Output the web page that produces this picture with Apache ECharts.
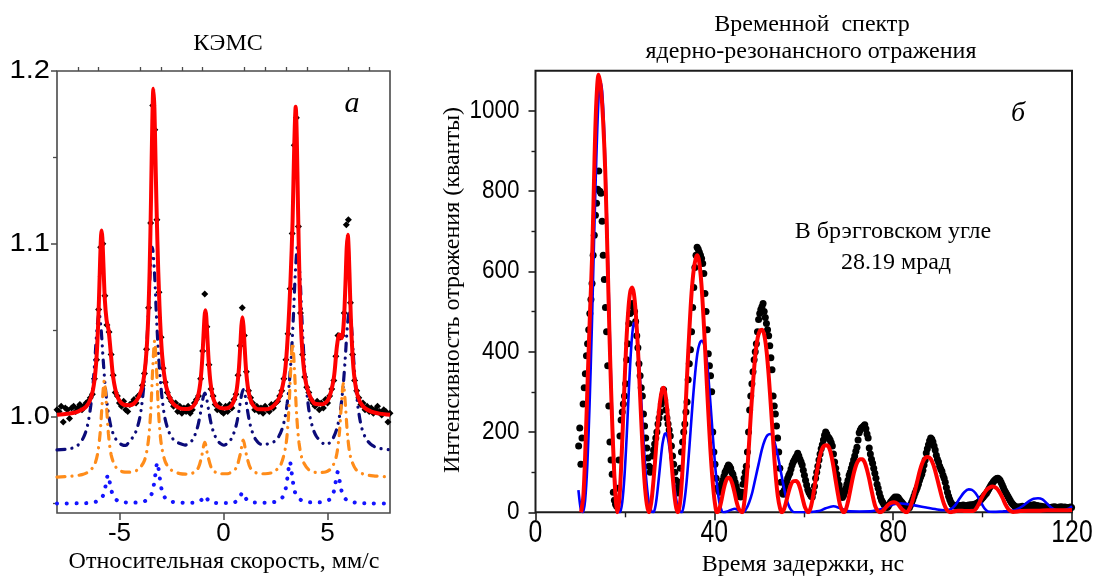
<!DOCTYPE html>
<html>
<head>
<meta charset="utf-8">
<script src="https://cdn.jsdelivr.net/npm/echarts@6.0.0/dist/echarts.min.js"></script>
<style>
  html, body { margin: 0; padding: 0; background: #fff; }
  #chart { width: 1094px; height: 578px; }
</style>
</head>
<body>
<div id="chart"></div>
<script>
// ---------- Panel (а): CEMS spectrum ----------
// measured points on a uniform velocity grid, mm/s
const velocityStart = -8;
const velocityStep = 0.1;
const cemsCounts = [
  1.004, 1.003, 1.006, 0.997, 1.005, 1.004, 0.999, 1.005, 1.006, 1.003, 1.005, 1.007, 1.004, 1.006, 1.008, 1.009, 1.011, 1.013, 1.022, 1.033,
  1.062, 1.098, 1.100, 1.070, 1.053, 1.049, 1.036, 1.024, 1.014, 1.012, 1.008, 1.006, 1.009, 1.004, 1.003, 1.007, 1.008, 1.010, 1.008, 1.012,
  1.013, 1.018, 1.025, 1.039, 1.063, 1.112, 1.180, 1.166, 1.114, 1.072, 1.046, 1.028, 1.020, 1.014, 1.011, 1.009, 1.006, 1.008, 1.003, 1.006,
  1.002, 1.005, 1.003, 1.006, 1.002, 1.004, 1.008, 1.010, 1.012, 1.022, 1.038, 1.071, 1.052, 1.030, 1.016, 1.012, 1.007, 1.004, 1.007, 1.003,
  1.002, 1.006, 1.003, 1.007, 1.005, 1.010, 1.013, 1.024, 1.041, 1.063, 1.047, 1.026, 1.015, 1.011, 1.008, 1.004, 1.006, 1.003, 1.005, 1.002,
  1.006, 1.004, 1.003, 1.007, 1.005, 1.008, 1.009, 1.012, 1.015, 1.022, 1.033, 1.048, 1.074, 1.106, 1.157, 1.173, 1.110, 1.060, 1.036, 1.023,
  1.017, 1.014, 1.010, 1.008, 1.006, 1.009, 1.004, 1.008, 1.005, 1.010, 1.008, 1.012, 1.016, 1.021, 1.035, 1.047, 1.046, 1.047, 1.060, 1.111,
  1.114, 1.066, 1.036, 1.021, 1.015, 1.011, 1.007, 1.008, 1.004, 1.006, 1.003, 1.005, 1.002, 1.004, 1.006, 1.003, 1.001, 1.004, 1.003, 0.997,
  1.002
];

// total fit [velocity, relative intensity]
const cemsFit = [
  [-8,1.0011],[-7.5,1.0017],[-7,1.003],[-6.6,1.0058],[-6.35,1.0117],[-6.2,1.021],[-6.1,1.0344],[-6.02,1.0544],[-5.95,1.0813],[-5.9,1.1005],
  [-5.86,1.1078],[-5.82,1.1035],[-5.77,1.0881],[-5.7,1.0674],[-5.62,1.0561],[-5.52,1.0499],[-5.42,1.0375],[-5.3,1.0227],[-5.1,1.0117],[-4.8,1.007],
  [-4.5,1.0066],[-4.2,1.0089],[-3.95,1.0153],[-3.78,1.027],[-3.65,1.0482],[-3.55,1.0841],[-3.48,1.1277],[-3.42,1.1709],[-3.37,1.1898],[-3.32,1.1787],
  [-3.26,1.1444],[-3.18,1.1028],[-3.08,1.0653],[-2.95,1.0357],[-2.75,1.0172],[-2.45,1.008],[-2.1,1.0049],[-1.75,1.0044],[-1.45,1.0061],[-1.25,1.0108],
  [-1.12,1.019],[-1.03,1.0316],[-0.96,1.0472],[-0.91,1.0581],[-0.87,1.0616],[-0.83,1.0582],[-0.78,1.0472],[-0.71,1.0318],[-0.62,1.0192],[-0.48,1.01],
  [-0.3,1.006],[0,1.0048],[0.3,1.0055],[0.48,1.0086],[0.62,1.0145],[0.73,1.0262],[0.8,1.0395],[0.86,1.0525],[0.91,1.0575],[0.96,1.0525],
  [1.02,1.0395],[1.1,1.0247],[1.22,1.0135],[1.4,1.0071],[1.7,1.0043],[2.05,1.0043],[2.4,1.0062],[2.7,1.0115],[2.95,1.0256],[3.1,1.0491],
  [3.22,1.079],[3.32,1.1134],[3.4,1.1573],[3.47,1.1793],[3.52,1.1619],[3.58,1.1211],[3.66,1.075],[3.76,1.0431],[3.9,1.024],[4.1,1.0136],
  [4.4,1.0075],[4.75,1.0072],[5.05,1.0103],[5.3,1.0224],[5.45,1.0408],[5.57,1.0475],[5.68,1.0454],[5.78,1.0549],[5.86,1.077],[5.92,1.0978],
  [5.97,1.1053],[6.02,1.0954],[6.08,1.0717],[6.16,1.0447],[6.27,1.0248],[6.45,1.012],[6.7,1.006],[7.1,1.0029],[7.5,1.0018],[8,1.0011]
];

// sub-spectrum 1 (dash-dot-dot), shifted down
const cemsSextetA = [
  [-8,0.9808],[-7.38,0.9815],[-7.08,0.9828],[-6.88,0.985],[-6.73,0.9879],[-6.58,0.9927],[-6.48,0.9983],[-6.38,1.0062],[-6.28,1.0171],[-6.18,1.0327],
  [-6.08,1.0506],[-5.98,1.06],[-5.88,1.0506],[-5.78,1.0327],[-5.68,1.0171],[-5.58,1.0062],[-5.48,0.9984],[-5.38,0.9929],[-5.23,0.9882],[-5.08,0.9856],
  [-4.88,0.9838],[-4.7,0.9834],[-4.52,0.9858],[-4.32,0.9887],[-4.17,0.9927],[-4.02,0.9995],[-3.92,1.0075],[-3.82,1.019],[-3.72,1.035],[-3.62,1.0579],
  [-3.52,1.0843],[-3.42,1.098],[-3.32,1.0843],[-3.22,1.0579],[-3.12,1.035],[-3.02,1.019],[-2.92,1.0075],[-2.82,0.9995],[-2.67,0.9927],[-2.52,0.9887],
  [-2.32,0.9858],[-2.05,0.9843],[-1.85,0.9836],[-1.65,0.9845],[-1.5,0.9864],[-1.4,0.9887],[-1.3,0.9918],[-1.2,0.9963],[-1.1,1.0026],[-1.0,1.0099],
  [-0.9,1.0137],[-0.8,1.0099],[-0.7,1.0026],[-0.6,0.9963],[-0.5,0.9918],[-0.4,0.9887],[-0.3,0.9864],[-0.15,0.9845],[0.02,0.9835],[0.2,0.9847],
  [0.35,0.9867],[0.45,0.9891],[0.55,0.9924],[0.65,0.9971],[0.75,1.0038],[0.85,1.0116],[0.95,1.0156],[1.05,1.0116],[1.15,1.0038],[1.25,0.9971],
  [1.35,0.9924],[1.45,0.9891],[1.55,0.9867],[1.7,0.9847],[1.9,0.9836],[2.16,0.9844],[2.46,0.9858],[2.66,0.9887],[2.81,0.9927],[2.96,0.9997],
  [3.06,1.0078],[3.16,1.0193],[3.26,1.0355],[3.36,1.0586],[3.46,1.0851],[3.56,1.099],[3.66,1.0851],[3.76,1.0586],[3.86,1.0355],[3.96,1.0193],
  [4.06,1.0078],[4.16,0.9997],[4.31,0.9927],[4.46,0.9887],[4.66,0.9858],[4.85,0.984],[4.95,0.9838],[5.15,0.9856],[5.3,0.9884],[5.45,0.9932],
  [5.55,0.9987],[5.65,1.0067],[5.75,1.0179],[5.85,1.0338],[5.95,1.0521],[6.05,1.0617],[6.15,1.0521],[6.25,1.0338],[6.35,1.0179],[6.45,1.0067],
  [6.55,0.9987],[6.65,0.9932],[6.8,0.9884],[6.95,0.9856],[7.15,0.9834],[7.45,0.9818],[8,0.9809]
];

// sub-spectrum 2 (dash-dot), shifted down
const cemsSextetB = [
  [-8,0.9651],[-7.3,0.9656],[-6.8,0.9665],[-6.45,0.9684],[-6.2,0.9722],[-6.05,0.9785],[-5.93,0.9901],[-5.83,1.0076],[-5.73,1.0207],[-5.63,1.0077],
  [-5.53,0.9902],[-5.4,0.9781],[-5.2,0.9713],[-4.9,0.9684],[-4.5,0.9679],[-4.1,0.9695],[-3.8,0.9746],[-3.62,0.9851],[-3.5,1.0024],[-3.4,1.0281],
  [-3.31,1.0438],[-3.22,1.0281],[-3.12,1.0024],[-3,0.9851],[-2.8,0.974],[-2.5,0.9691],[-2.1,0.9671],[-1.7,0.9668],[-1.4,0.9679],[-1.2,0.9707],
  [-1.05,0.9771],[-0.9,0.9852],[-0.75,0.9772],[-0.55,0.9697],[-0.25,0.9672],[0.05,0.967],[0.3,0.9674],[0.6,0.9702],[0.8,0.978],[0.95,0.9865],
  [1.1,0.978],[1.3,0.9702],[1.6,0.9674],[2,0.967],[2.4,0.968],[2.75,0.9722],[3,0.9838],[3.13,1.0019],[3.23,1.0272],[3.32,1.0427],
  [3.41,1.0272],[3.51,1.0019],[3.63,0.9848],[3.8,0.9748],[4.1,0.9693],[4.5,0.9677],[4.9,0.968],[5.2,0.9705],[5.42,0.9771],[5.56,0.9895],
  [5.66,1.0065],[5.76,1.0192],[5.86,1.0065],[5.96,0.9894],[6.1,0.977],[6.35,0.9697],[6.7,0.9669],[7.2,0.9658],[8,0.9652]
];

// sub-spectrum 3 (dotted), shifted down
const cemsSextetC = [
  [-8,0.9498],[-7,0.9499],[-6.4,0.9502],[-6,0.9514],[-5.8,0.9541],[-5.68,0.9592],[-5.55,0.9663],[-5.42,0.9593],[-5.3,0.9542],[-5.1,0.9515],
  [-4.8,0.9505],[-4.3,0.9503],[-3.8,0.9511],[-3.55,0.9531],[-3.4,0.9573],[-3.29,0.9652],[-3.18,0.9735],[-3.07,0.9652],[-2.96,0.9573],[-2.8,0.953],
  [-2.5,0.9509],[-2,0.9503],[-1.5,0.9502],[-1.2,0.9507],[-1.05,0.952],[-0.9,0.9542],[-0.75,0.952],[-0.55,0.9504],[-0.2,0.9501],[0.2,0.9501],
  [0.55,0.9506],[0.76,0.9529],[0.91,0.9561],[1.06,0.9529],[1.25,0.9507],[1.6,0.9503],[2.1,0.9502],[2.6,0.9512],[2.85,0.9537],[3,0.959],
  [3.08,0.9655],[3.19,0.974],[3.3,0.9655],[3.42,0.9569],[3.6,0.9529],[3.9,0.9509],[4.4,0.9504],[4.9,0.951],[5.15,0.9527],[5.3,0.9567],
  [5.38,0.9616],[5.49,0.968],[5.6,0.9616],[5.72,0.9552],[5.95,0.9515],[6.4,0.9502],[7,0.9499],[8,0.9498]
];

const cemsMajorY = [1.0, 1.1, 1.2];
const cemsMinorY = [0.95, 1.05, 1.15];
const cemsMajorX = [-5, 0, 5];
const cemsMinorX = [-7, -6, -4, -3, -2, -1, 1, 2, 3, 4, 6, 7];

// ---------- Panel (б): time spectrum of nuclear resonant reflection ----------
// counts on a uniform delay grid, ns
const delayStart = 9.65;
const delayStep = 0.25;
const reflectionCounts = [
  165, 210, 120, 185,
  270, 310, 345, 390, 420, 455, 495, 530, 570, 640, 690, 740, 770, 805, 850, 800, 795, 725, 640, 580,
  510, 450, 365, 265, 175, 130, 95, 50, 30, 20, 15, 60, 130, 190, 230, 250, 270, 290, 320, 380,
  420, 470, 495, 515, 520, 510, 500, 475, 440, 410, 370, 340, 310, 290, 245, 215, 185, 160, 135, 115,
  100, 110, 140, 155, 170, 185, 200, 220, 235, 250, 270, 290, 305, 280, 255, 235, 220, 205, 190, 165,
  140, 120, 100, 80, 62, 48, 75, 110, 150, 175, 200, 220, 250, 275, 330, 370, 405, 450, 510, 560,
  610, 640, 660, 655, 648, 640, 632, 620, 595, 545, 500, 455, 395, 365, 340, 300, 200, 150, 120, 85,
  60, 55, 50, 65, 72, 80, 90, 100, 105, 112, 118, 115, 110, 100, 95, 85, 75, 65, 55, 45,
  40, 38, 50, 70, 85, 100, 115, 150, 200, 255, 290, 320, 350, 380, 400, 420, 450, 480, 495, 505,
  512, 520, 500, 485, 470, 455, 440, 415, 385, 355, 290, 265, 245, 215, 185, 150, 110, 75, 48, 45,
  55, 65, 75, 85, 92, 98, 108, 118, 125, 130, 136, 140, 147, 140, 132, 125, 118, 105, 92, 80,
  68, 57, 50, 45, 40, 38, 50, 65, 85, 100, 115, 130, 145, 158, 168, 180, 192, 200, 195, 188,
  185, 180, 173, 165, 145, 125, 110, 95, 82, 68, 55, 42, 37, 42, 50, 60, 70, 80, 92, 100,
  110, 120, 130, 140, 152, 162, 180, 198, 205, 210, 212, 215, 218, 208, 195, 185, 160, 145, 132, 122,
  110, 97, 85, 70, 60, 48, 38, 30, 25, 20, 16, 13, 12, 15, 20, 25, 28, 32, 35, 38,
  36, 38, 36, 32, 28, 25, 22, 18, 15, 12, 11, 10, 12, 18, 25, 32, 40, 48, 55, 62,
  70, 80, 88, 95, 105, 118, 130, 148, 158, 168, 178, 185, 182, 175, 165, 155, 142, 132, 125, 115,
  108, 102, 92, 85, 75, 62, 50, 40, 32, 25, 20, 18, 16, 17, 15, 18, 16, 14, 17, 15,
  18, 16, 15, 17, 16, 18, 17, 19, 18, 17, 20, 19, 22, 24, 25, 28, 32, 35, 38, 42,
  45, 48, 53, 58, 63, 68, 72, 76, 79, 82, 84, 85, 83, 80, 74, 68, 62, 55, 50, 45,
  40, 35, 30, 25, 21, 18, 16, 14, 12, 13, 11, 14, 12, 15, 13, 12, 14, 16, 15, 17,
  18, 16, 17, 19, 18, 16, 17, 15, 16, 14, 15, 13, 12, 14, 11, 13, 12, 10, 12, 11,
  13, 12, 14, 12, 10, 11, 13, 12, 14, 12, 11, 13, 12, 10, 12, 11, 13, 12
];

// fitted curve [delay, counts]
const reflectionFit = [
  [10.2,0],[10.7,40],[11.2,170],[11.7,340],[12.2,500],[12.7,650],[13.2,880],[13.6,1020],[14.1,1090],[14.6,1060],
  [15.1,980],[15.6,850],[16.1,640],[16.6,420],[17.1,240],[17.6,100],[18.0,25],[18.3,0],
  [18.8,40],[19.3,150],[19.8,290],[20.3,420],[20.8,510],[21.2,550],[21.6,560],[22.0,545],[22.4,500],[22.9,410],
  [23.4,290],[23.9,170],[24.4,75],[24.9,20],[25.4,0],
  [25.9,25],[26.4,80],[26.9,150],[27.4,225],[27.9,280],[28.4,308],[28.7,310],[29.1,290],[29.6,240],[30.1,170],
  [30.6,100],[31.1,40],[31.5,10],[31.9,0],
  [32.4,30],[32.9,110],[33.4,220],[33.9,340],[34.4,450],[34.9,545],[35.4,605],[35.9,635],[36.2,640],[36.6,625],
  [37.1,570],[37.6,480],[38.1,370],[38.6,260],[39.1,160],[39.6,80],[40.1,25],[40.6,0],
  [41.1,8],[41.6,30],[42.1,58],[42.6,78],[43.1,86],[43.5,85],[44.0,72],[44.5,50],[45.0,25],[45.5,8],[46.2,0],
  [46.7,25],[47.2,80],[47.7,160],[48.2,250],[48.7,330],[49.2,395],[49.7,435],[50.2,453],[50.7,455],[51.2,440],
  [51.7,400],[52.2,335],[52.7,255],[53.2,170],[53.7,95],[54.2,40],[54.7,10],[55.1,0],
  [55.6,8],[56.1,28],[56.6,50],[57.1,68],[57.6,77],[58.3,78],[58.8,72],[59.3,55],[59.8,32],[60.3,12],[61.0,0],
  [61.5,10],[62.0,35],[62.5,70],[63.0,105],[63.5,135],[64.0,155],[64.5,165],[65.2,167],[65.7,160],[66.2,140],
  [66.7,110],[67.2,75],[67.7,42],[68.2,15],[69.0,0],
  [69.5,10],[70.0,32],[70.5,60],[71.0,88],[71.5,110],[72.0,125],[72.6,132],[73.1,132],[73.6,125],[74.1,108],
  [74.6,85],[75.1,58],[75.6,32],[76.1,12],[77.0,0],
  [77.6,3],[78.2,10],[78.8,18],[79.4,23],[80.2,25],[80.9,22],[81.5,14],[82.1,6],[83.0,0],
  [83.6,8],[84.2,25],[84.8,50],[85.4,78],[86.0,105],[86.6,125],[87.2,136],[87.8,138],[88.4,133],[89.0,118],
  [89.6,95],[90.2,68],[90.8,42],[91.4,20],[92.0,6],[92.7,0],
  [93.5,2],[94.4,4],[95.4,4],[96.4,3],[97.9,3],[98.6,10],[99.2,22],[99.8,36],[100.4,48],[101.0,57],
  [101.6,62],[102.2,64],[102.7,63],[103.3,58],[103.9,48],[104.5,35],[105.1,20],[105.7,9],[106.3,3],[106.8,1],
  [108.4,3],[110.4,4],[112.4,4],[114.4,5],[116.4,5],[118.4,5],[120,6]
];

// kinematic (non-resonant) model curve [delay, counts]
const reflectionModel = [
  [9.6,55],[9.9,25],[10.2,5],[10.6,0],[11.1,30],[11.6,120],[12.1,270],[12.6,460],[13.1,680],[13.6,880],
  [14.1,1030],[14.5,1072],[14.9,1050],[15.4,940],[15.9,760],[16.4,540],[16.9,330],[17.4,160],[17.9,55],[18.4,10],[18.9,0],
  [19.4,25],[19.9,90],[20.4,190],[20.9,310],[21.4,410],[21.8,460],[22.1,472],[22.5,460],[23.0,400],[23.5,310],
  [24.0,210],[24.5,120],[25.0,55],[25.5,15],[26.0,2],[26.4,0],
  [26.9,20],[27.4,65],[27.9,120],[28.4,170],[28.9,195],[29.2,197],[29.6,185],[30.1,150],[30.6,105],[31.1,60],
  [31.6,25],[32.1,6],[32.7,0],
  [33.2,20],[33.7,65],[34.2,130],[34.7,205],[35.2,280],[35.7,345],[36.2,395],[36.7,420],[37.2,427],[37.5,425],
  [37.9,410],[38.4,370],[38.9,305],[39.4,230],[39.9,155],[40.4,90],[40.9,40],[41.4,12],[42.0,0],
  [42.9,2],[43.7,6],[44.6,9],[45.4,5],[46.4,0],
  [47.1,8],[47.8,25],[48.5,50],[49.2,85],[49.9,120],[50.6,155],[51.3,180],[51.9,192],[52.5,195],[53.1,188],
  [53.7,165],[54.3,135],[54.9,100],[55.5,65],[56.1,35],[56.7,15],[57.3,4],[57.9,0],
  [58.9,0],[60.4,0],[61.9,1],[63.4,3],[64.9,10],[66.6,15],[68.2,10],[69.9,3],[72.4,2],[75.4,3],
  [77.4,8],[78.9,15],[80.4,21],[81.9,22],[83.4,20],[85.4,16],[87.4,12],[89.4,8],[91.4,5],[92.9,8],
  [93.9,18],[94.9,35],[95.9,50],[96.9,57],[97.6,56],[98.4,48],[99.4,30],[100.4,10],[101.2,2],[102.4,1],
  [104.4,2],[105.9,3],[107.4,6],[108.9,15],[110.4,28],[111.4,34],[112.4,35],[113.4,32],[114.4,22],[115.4,11],
  [116.4,5],[117.4,4],[118.4,6],[119.4,10],[120,15]
];

const reflectionMajorX = [0, 40, 80, 120];
const reflectionMajorY = [0, 200, 400, 600, 800, 1000];
const reflectionMinorY = [100, 300, 500, 700, 900];

// ---------- chart ----------
const chart = echarts.init(document.getElementById('chart'), null, { renderer: 'canvas' });

const cemsPoints = cemsCounts.map((v, i) => [+(velocityStart + i * velocityStep).toFixed(2), v]);
const reflectionPoints = reflectionCounts.map((v, i) => [+(delayStart + i * delayStep).toFixed(2), v]);

const serif = '"Liberation Serif", "Times New Roman", serif';
const sans = '"Liberation Sans", Arial, sans-serif';
const leftFrame = '#4a4a4a';
const rightFrame = '#1c1c1c';

function txt(text, x, y, size, opts) {
  opts = opts || {};
  return {
    type: 'text', x: x, y: y, rotation: opts.rotation || 0, silent: true, z: 100,
    scaleX: opts.scaleX || 1,
    style: {
      text: text,
      font: (opts.italic ? 'italic ' : '') + size + 'px ' + (opts.family || serif),
      fill: '#000', align: opts.align || 'center', verticalAlign: 'middle'
    }
  };
}

const baseGraphic = [
  txt('КЭМС', 228, 44, 24),
  txt('Относительная скорость, мм/с', 224, 562, 24),
  txt('а', 352, 104, 30, { italic: true }),
  txt('Временной  спектр', 812, 25, 24),
  txt('ядерно-резонансного отражения', 811, 52, 24),
  txt('Интенсивность отражения (кванты)', 453, 290, 24, { rotation: Math.PI / 2 }),
  txt('Время задержки, нс', 803, 565, 24),
  txt('б', 1018, 114, 28, { italic: true }),
  txt('В брэгговском угле', 893, 232, 24),
  txt('28.19 мрад', 896, 263, 24)
];

function hiddenAxis(extra) {
  return Object.assign({
    type: 'value',
    axisLine: { show: false, onZero: false },
    axisLabel: { show: false },
    splitLine: { show: false }
  }, extra);
}

const option = {
  animation: false,
  backgroundColor: '#fff',
  grid: [
    { left: 57, top: 71, width: 333, height: 442, show: true, borderColor: leftFrame, borderWidth: 1.6, backgroundColor: 'transparent' },
    { left: 535.5, top: 70.7, width: 536.5, height: 441.6, show: true, borderColor: rightFrame, borderWidth: 2, backgroundColor: 'transparent' }
  ],
  xAxis: [
    hiddenAxis({
      gridIndex: 0, min: -8, max: 8,
      axisTick: { show: true, customValues: cemsMajorX, length: 7, lineStyle: { color: leftFrame, width: 1.5 } },
      axisLabel: { show: true, customValues: cemsMajorX, margin: 8, color: '#000', fontSize: 26, fontFamily: sans }
    }),
    hiddenAxis({
      gridIndex: 0, min: -8, max: 8,
      axisTick: { show: true, customValues: cemsMinorX, length: 4, lineStyle: { color: leftFrame, width: 1.3 } }
    }),
    hiddenAxis({
      gridIndex: 1, min: 0, max: 120, interval: 40,
      axisTick: { show: true, length: 8, lineStyle: { color: rightFrame, width: 1.6 } },
      minorTick: { show: true, splitNumber: 2, length: 5, lineStyle: { color: rightFrame, width: 1.4 } }
    })
  ],
  yAxis: [
    hiddenAxis({
      gridIndex: 0, min: 0.9443, max: 1.2, position: 'left',
      axisTick: { show: true, customValues: cemsMajorY, length: 6, lineStyle: { color: leftFrame, width: 1.5 } }
    }),
    hiddenAxis({
      gridIndex: 0, min: 0.9443, max: 1.2, position: 'left', offset: 0,
      axisTick: { show: true, customValues: cemsMinorY, length: 4, lineStyle: { color: leftFrame, width: 1.3 } }
    }),
    hiddenAxis({
      gridIndex: 1, min: 0, max: 1100, position: 'left',
      axisTick: { show: true, customValues: reflectionMajorY, length: 7, lineStyle: { color: rightFrame, width: 1.6 } }
    }),
    hiddenAxis({
      gridIndex: 1, min: 0, max: 1100, position: 'left', offset: 0,
      axisTick: { show: true, customValues: reflectionMinorY, length: 4, lineStyle: { color: rightFrame, width: 1.4 } }
    })
  ],
  series: [
    // panel а
    {
      type: 'scatter', xAxisIndex: 0, yAxisIndex: 0, data: cemsPoints,
      symbol: 'diamond', symbolSize: 7, itemStyle: { color: '#000', opacity: 1 }, z: 2, silent: true
    },
    {
      type: 'line', xAxisIndex: 0, yAxisIndex: 0, data: cemsSextetA, showSymbol: false, smooth: 0.3, z: 3,
      lineStyle: { color: '#0b0b7a', width: 3.2, type: [8, 7, 0.1, 7, 0.1, 7], cap: 'round' }
    },
    {
      type: 'line', xAxisIndex: 0, yAxisIndex: 0, data: cemsSextetB, showSymbol: false, smooth: 0.3, z: 3,
      lineStyle: { color: '#ff8c1a', width: 3.2, type: [8, 7, 0.1, 7], cap: 'round' }
    },
    {
      type: 'line', xAxisIndex: 0, yAxisIndex: 0, data: cemsSextetC, showSymbol: false, smooth: 0.3, z: 3,
      lineStyle: { color: '#1414ff', width: 4, type: [0.1, 9.6], cap: 'round' }
    },
    {
      type: 'line', xAxisIndex: 0, yAxisIndex: 0, data: cemsFit, showSymbol: false, smooth: 0.3, z: 4,
      lineStyle: { color: '#ff0000', width: 4 }
    },
    // panel б
    {
      type: 'scatter', xAxisIndex: 2, yAxisIndex: 2, data: reflectionPoints,
      symbol: 'circle', symbolSize: 7, itemStyle: { color: '#000', opacity: 1 }, z: 2, silent: true
    },
    {
      type: 'line', xAxisIndex: 2, yAxisIndex: 2, data: reflectionModel, showSymbol: false, smooth: 0.3, z: 3,
      lineStyle: { color: '#0000ff', width: 2.6 }
    },
    {
      type: 'line', xAxisIndex: 2, yAxisIndex: 2, data: reflectionFit, showSymbol: false, smooth: 0.3, z: 4,
      lineStyle: { color: '#ff0000', width: 4 }
    }
  ],
  graphic: baseGraphic
};

chart.setOption(option);

// tick labels drawn as text at the axis positions reported by the chart,
// with a horizontal squeeze/stretch to match the lettering of each panel
const tickLabels = [];
cemsMajorY.forEach(v => {
  const p = chart.convertToPixel({ xAxisIndex: 0, yAxisIndex: 0 }, [-8, v]);
  tickLabels.push(txt(v.toFixed(1), p[0] - 7, p[1], 26, { family: sans, scaleX: 1.12, align: 'right' }));
});
reflectionMajorX.forEach(v => {
  const p = chart.convertToPixel({ xAxisIndex: 2, yAxisIndex: 2 }, [v, 0]);
  tickLabels.push(txt(String(v), p[0], p[1] + 21, 31, { family: sans, scaleX: 0.8 }));
});
reflectionMajorY.forEach(v => {
  const p = chart.convertToPixel({ xAxisIndex: 2, yAxisIndex: 2 }, [0, v]);
  tickLabels.push(txt(String(v), p[0] - 16, p[1], 25, { family: sans, scaleX: 0.9, align: 'right' }));
});
chart.setOption({ graphic: baseGraphic.concat(tickLabels) });
</script>
</body>
</html>
